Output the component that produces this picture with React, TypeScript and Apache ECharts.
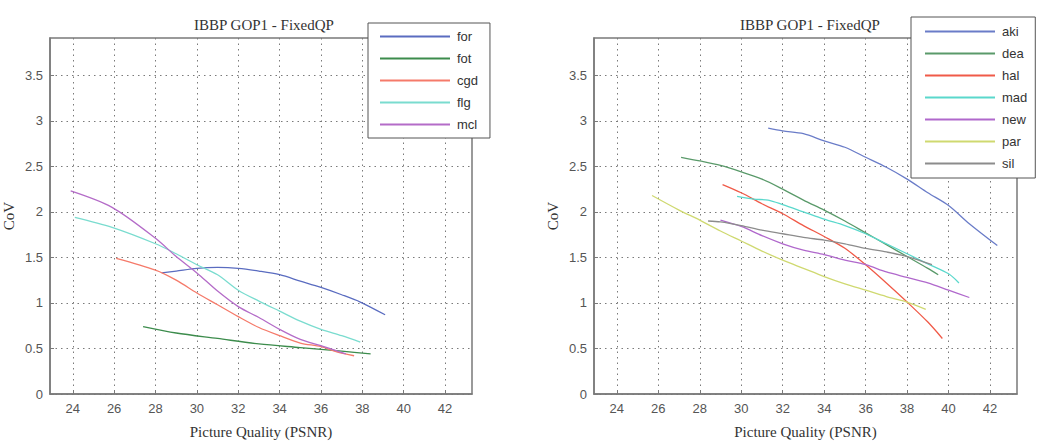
import React, { useEffect, useRef } from "react";
import * as echarts from "echarts";

const TITLE = "IBBP GOP1 - FixedQP";
const X_NAME = "Picture Quality (PSNR)";
const Y_NAME = "CoV";
const X_TICKS = [24, 26, 28, 30, 32, 34, 36, 38, 40, 42];
const Y_TICKS = [0, 0.5, 1, 1.5, 2, 2.5, 3, 3.5];

// Left panel
const forX = [28.3, 29, 30, 31, 32, 33, 34, 35, 36, 37, 37.9, 39.1];
const forY = [1.33, 1.35, 1.38, 1.39, 1.38, 1.35, 1.31, 1.24, 1.17, 1.09, 1.01, 0.87];
const fotX = [27.4, 29, 31, 33, 35, 37, 38.4];
const fotY = [0.74, 0.67, 0.61, 0.55, 0.51, 0.47, 0.44];
const cgdX = [26.1, 28, 29, 30, 31, 32, 33, 34, 35, 36, 36.8, 37.6];
const cgdY = [1.49, 1.36, 1.25, 1.11, 0.98, 0.85, 0.73, 0.64, 0.56, 0.52, 0.46, 0.42];
const flgX = [24.1, 25.9, 28, 29, 30, 31, 32, 33, 34, 35, 36, 37, 37.9];
const flgY = [1.94, 1.83, 1.65, 1.54, 1.42, 1.31, 1.14, 1.02, 0.91, 0.8, 0.71, 0.64, 0.57];
const mclX = [23.9, 25.9, 28, 29, 30, 31, 32, 33, 34, 35, 36, 36.8, 37.2];
const mclY = [2.23, 2.05, 1.71, 1.51, 1.33, 1.13, 0.96, 0.84, 0.71, 0.6, 0.53, 0.47, 0.44];

// Right panel
const akiX = [31.3, 32, 33, 34, 35, 36, 37, 38, 39, 40, 41, 42.35];
const akiY = [2.92, 2.89, 2.86, 2.78, 2.71, 2.6, 2.49, 2.36, 2.21, 2.07, 1.87, 1.63];
const deaX = [27.1, 28, 29, 30, 31, 32, 33, 34, 35, 36, 37, 38, 39, 39.5];
const deaY = [2.6, 2.56, 2.51, 2.44, 2.36, 2.25, 2.13, 2.02, 1.9, 1.77, 1.64, 1.51, 1.38, 1.31];
const halX = [29.1, 30, 31, 32, 33, 34, 35, 36, 37, 38, 39, 39.7];
const halY = [2.3, 2.21, 2.09, 1.98, 1.85, 1.73, 1.6, 1.42, 1.22, 1.01, 0.79, 0.61];
const madX = [29.8, 30.6, 31.3, 32, 33, 34, 35, 36, 37, 38, 39, 40, 40.5];
const madY = [2.17, 2.14, 2.13, 2.08, 2.0, 1.92, 1.85, 1.76, 1.65, 1.54, 1.43, 1.32, 1.22];
const newX = [29, 30, 31, 32, 33, 34, 35, 36, 37, 38, 39, 40, 41];
const newY = [1.91, 1.84, 1.74, 1.65, 1.58, 1.53, 1.47, 1.42, 1.34, 1.28, 1.22, 1.14, 1.06];
const parX = [25.7, 27, 28, 29, 30, 31, 32, 33, 34, 35, 36, 37, 38, 38.9];
const parY = [2.18, 2.02, 1.91, 1.79, 1.68, 1.57, 1.47, 1.38, 1.29, 1.21, 1.14, 1.07, 1.01, 0.93];
const silX = [28.4, 29, 30, 31, 32, 33, 34, 35, 36, 37, 38, 39.2];
const silY = [1.9, 1.89, 1.85, 1.8, 1.76, 1.72, 1.69, 1.65, 1.6, 1.56, 1.51, 1.42];

const LEFT_NAMES = ["for", "fot", "cgd", "flg", "mcl"];
const LEFT_X = [forX, fotX, cgdX, flgX, mclX];
const LEFT_Y = [forY, fotY, cgdY, flgY, mclY];
const LEFT_COLORS = ["#5a6cc0", "#3c8c4c", "#f57a6a", "#7adccf", "#b46cc8"];

const RIGHT_NAMES = ["aki", "dea", "hal", "mad", "new", "par", "sil"];
const RIGHT_X = [akiX, deaX, halX, madX, newX, parX, silX];
const RIGHT_Y = [akiY, deaY, halY, madY, newY, parY, silY];
const RIGHT_COLORS = ["#6a7cc8", "#5a9a6a", "#f05a48", "#5ad8cc", "#b068cc", "#cfd970", "#8c8c8c"];

const SERIF = "'Liberation Serif', 'DejaVu Serif', serif";
const SANS = "'Liberation Sans', Arial, sans-serif";
const GRIDLINE = { type: [1.5, 4], color: "#7a7a7a", width: 1 };
const FRAME = "#7a7a7a";

function xAxis(gridIndex: number) {
  return {
    type: "value",
    gridIndex,
    min: 22.9,
    max: 43.3,
    name: X_NAME,
    nameLocation: "middle",
    nameGap: 30,
    nameTextStyle: { fontFamily: SERIF, fontSize: 15, color: "#333" },
    axisLine: { show: true, lineStyle: { color: FRAME, width: 1.5 } },
    axisTick: { show: true, inside: true, length: 4, customValues: X_TICKS, lineStyle: { color: FRAME } },
    axisLabel: { customValues: X_TICKS, fontFamily: SANS, fontSize: 13, color: "#555", margin: 8 },
    splitLine: { show: true, lineStyle: GRIDLINE },
  };
}

function yAxis(gridIndex: number) {
  return {
    type: "value",
    gridIndex,
    min: 0,
    max: 3.91,
    name: Y_NAME,
    nameLocation: "middle",
    nameGap: 34,
    nameTextStyle: { fontFamily: SERIF, fontSize: 15, color: "#333" },
    axisLine: { show: true, lineStyle: { color: FRAME, width: 1.5 } },
    axisTick: { show: true, inside: true, length: 4, customValues: Y_TICKS, lineStyle: { color: FRAME } },
    axisLabel: { customValues: Y_TICKS, fontFamily: SANS, fontSize: 13, color: "#555", margin: 7 },
    splitLine: { show: true, lineStyle: GRIDLINE },
  };
}

function makeSeries(names: string[], xs: number[][], ys: number[][], colors: string[], idx: number) {
  return names.map((name, i) => ({
    type: "line",
    name,
    xAxisIndex: idx,
    yAxisIndex: idx,
    data: xs[i].map((x, j) => [x, ys[i][j]]),
    smooth: 0.3,
    showSymbol: false,
    symbol: "none",
    color: colors[i],
    lineStyle: { width: 1.3, color: colors[i] },
  }));
}

export default function App() {
  const ref = useRef<HTMLDivElement>(null);
  useEffect(() => {
    if (!ref.current) return;
    const chart = echarts.init(ref.current, undefined, { renderer: "svg" });
    const legendCommon = {
      orient: "vertical",
      icon: "rect",
      itemWidth: 70,
      itemHeight: 2,
      itemGap: 9,
      backgroundColor: "#fff",
      borderColor: "#555",
      borderWidth: 1,
      textStyle: { fontFamily: SANS, fontSize: 13, color: "#333", padding: [0, 0, 0, 2] },
    };
    chart.setOption({
      animation: false,
      backgroundColor: "#fff",
      title: [
        { text: TITLE, left: 259, top: 12, textAlign: "center", textStyle: { fontFamily: SERIF, fontSize: 15, fontWeight: "normal", color: "#333" } },
        { text: TITLE, left: 805, top: 12, textAlign: "center", textStyle: { fontFamily: SERIF, fontSize: 15, fontWeight: "normal", color: "#333" } },
      ],
      grid: [
        { left: 47, top: 38, width: 425, height: 359, show: true, borderColor: FRAME, borderWidth: 1.5, backgroundColor: "transparent" },
        { left: 594, top: 38, width: 423, height: 359, show: true, borderColor: FRAME, borderWidth: 1.5, backgroundColor: "transparent" },
      ],
      xAxis: [xAxis(0), xAxis(1)],
      yAxis: [yAxis(0), yAxis(1)],
      legend: [
        { ...legendCommon, data: LEFT_NAMES, left: 368, top: 23, padding: [7, 12, 7, 12] },
        { ...legendCommon, data: RIGHT_NAMES, left: 911, top: 17, padding: [8, 8, 8, 14] },
      ],
      series: [
        ...makeSeries(LEFT_NAMES, LEFT_X, LEFT_Y, LEFT_COLORS, 0),
        ...makeSeries(RIGHT_NAMES, RIGHT_X, RIGHT_Y, RIGHT_COLORS, 1),
      ],
    });
    return () => chart.dispose();
  }, []);
  return <div ref={ref} style={{ position: "absolute", left: 0, top: 0, width: 1045, height: 444 }} />;
}
